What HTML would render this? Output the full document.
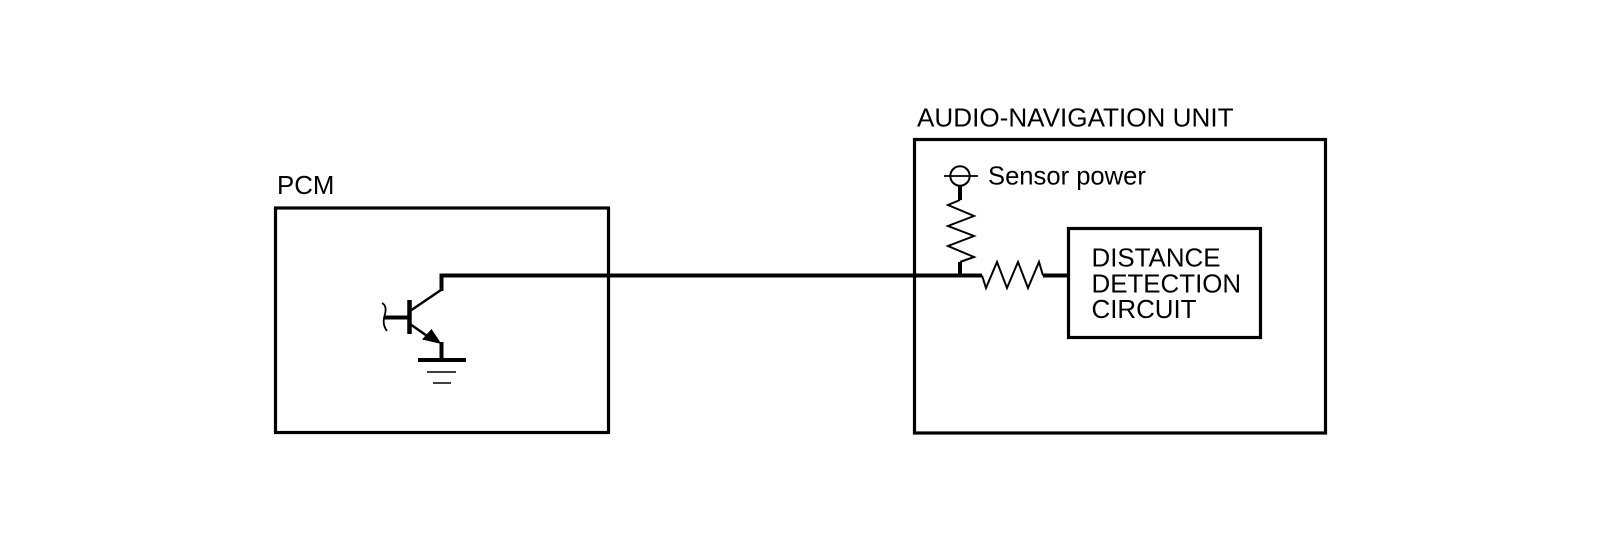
<!DOCTYPE html>
<html><head><meta charset="utf-8"><style>
html,body{margin:0;padding:0;background:#fff;width:1600px;height:537px;overflow:hidden}
svg{display:block}
text{font-family:"Liberation Sans",Arial,sans-serif;fill:#000}
</style></head><body>
<svg width="1600" height="537" viewBox="0 0 1600 537" xmlns="http://www.w3.org/2000/svg">
<rect width="1600" height="537" fill="#fff"/>
<g fill="none" stroke="#000" stroke-linejoin="miter">
<rect x="275.500" y="208" width="333" height="224.500" stroke-width="3.200"/>
<rect x="914.500" y="139.500" width="411" height="293.500" stroke-width="3.200"/>
<rect x="1068.500" y="228.500" width="192" height="109" stroke-width="3.200"/>
<path d="M441.500 291V275.500H982" stroke-width="4"/>
<path d="M982 275.500L986 288L997 262L1007 288L1018 262L1028 288L1039 262L1043 275.500" stroke-width="2"/>
<path d="M1043 275.500H1068" stroke-width="4"/>
<path d="M960 275V262" stroke-width="4"/>
<path d="M960 262L974 257L948 246L974 236L948 226L974 216L948 205L960 200" stroke-width="2"/>
<path d="M960 200V185" stroke-width="4"/>
<circle cx="960" cy="176" r="9.700" stroke-width="2"/>
<path d="M944 176H978" stroke-width="1.800"/>
<path d="M441 290L410 311" stroke-width="2.500"/>
<path d="M409.500 300V334" stroke-width="4.500"/>
<path d="M384 317.500H409" stroke-width="4"/>
<path d="M410 324L430 338" stroke-width="2.500"/>
<path d="M441.500 342V360" stroke-width="4"/>
<path d="M418 360H466" stroke-width="4"/>
<path d="M427 372H456" stroke-width="1.500"/>
<path d="M433 383H451" stroke-width="1.500"/>
<path d="M382 303C386 305 386 310 385 314C383 320 383 326 387 331" stroke-width="1.800"/>
</g>
<path d="M441.500 344L422 339.500L431.500 329Z" fill="#000"/>
<text x="917" y="126.500" font-size="26.100">AUDIO-NAVIGATION UNIT</text>
<text x="277" y="194" font-size="25.800">PCM</text>
<text x="988" y="184.500" font-size="25.600">Sensor power</text>
<text x="1091.500" y="266.500" font-size="25.900">DISTANCE</text>
<text x="1091.500" y="292.500" font-size="25.900">DETECTION</text>
<text x="1091.500" y="318" font-size="25.900">CIRCUIT</text>
</svg>
</body></html>
